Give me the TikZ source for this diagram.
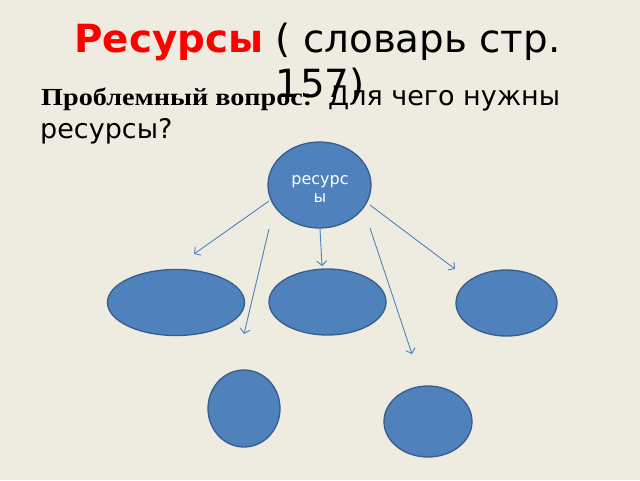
\documentclass[tikz,border=0pt]{standalone}
\usepackage{fontspec}
\setmainfont{DejaVu Sans}
\newfontfamily\serifbold{Liberation Serif}
\usetikzlibrary{arrows.meta,shapes.geometric}
\definecolor{bg}{HTML}{EEECE1}
\definecolor{bluefill}{HTML}{4F81BD}
\definecolor{blueline}{HTML}{385D8A}
\definecolor{titlered}{HTML}{FF0000}
\tikzset{
  blob/.style={ellipse, fill=bluefill, draw=blueline, line width=1.3pt, inner sep=0pt},
  link/.style={draw=bluefill, line width=0.9pt, -{Straight Barb[length=4.5pt,width=10pt,line width=0.9pt]}},
  txt/.style={inner sep=0pt, font=\fontsize{27}{33}\selectfont},
  ttl/.style={anchor=base, inner sep=0pt, font=\fontsize{38.8}{45}\selectfont},
}
\begin{document}
\begin{tikzpicture}[x=1pt,y=-1pt]
\fill[bg] (0,0) rectangle (640,480);
\useasboundingbox (0,0) rectangle (640,480);
% title
\node[ttl] (title1) at (317.5,52.5)
  {\textcolor{titlered}{\bfseries Ресурсы} ( словарь стр.};
\node[ttl] (title2) at (320,97) {157)};
% question
\node[txt, anchor=base west] (q1a) at (41,105)
  {\scalebox{1.15}[1]{\fontsize{24.5}{33}\selectfont\serifbold\bfseries Проблемный вопрос:}};
\node[txt, anchor=base west] (q1b) at (328,105) {Для чего нужны};
\node[txt, anchor=base west] (q2) at (40,138) {ресурсы?};
% nodes
\node[blob, minimum width=103pt, minimum height=86pt] (res) at (319.5,185) {};
\node[anchor=base, inner sep=0pt, text=white, font=\fontsize{16}{18}\selectfont] (reslbl1) at (320,184) {ресурс};
\node[anchor=base, inner sep=0pt, text=white, font=\fontsize{16}{18}\selectfont] (reslbl2) at (320,202) {ы};
\node[blob, minimum width=137pt, minimum height=66pt] (e1) at (176,302.5) {};
\node[blob, minimum width=117pt, minimum height=66pt] (e2) at (327.5,302) {};
\node[blob, minimum width=101pt, minimum height=66pt] (e3) at (506.5,303) {};
\node[blob, minimum width=72pt, minimum height=77pt] (e4) at (244,408.5) {};
\node[blob, minimum width=88pt, minimum height=71pt] (e5) at (428,421.5) {};
% arrow end points
\coordinate (a1s) at (269,201);
\coordinate (a1e) at (194,254);
\coordinate (a2s) at (269,229);
\coordinate (a2e) at (244,334);
\coordinate (a3s) at (320,229);
\coordinate (a3e) at (322,266);
\coordinate (a4s) at (370,228);
\coordinate (a4e) at (412,354);
\coordinate (a5s) at (370,205);
\coordinate (a5e) at (455,269);
\draw[link] (a1s) -- (a1e);
\draw[link] (a2s) -- (a2e);
\draw[link] (a3s) -- (a3e);
\draw[link] (a4s) -- (a4e);
\draw[link] (a5s) -- (a5e);
\end{tikzpicture}
\end{document}
